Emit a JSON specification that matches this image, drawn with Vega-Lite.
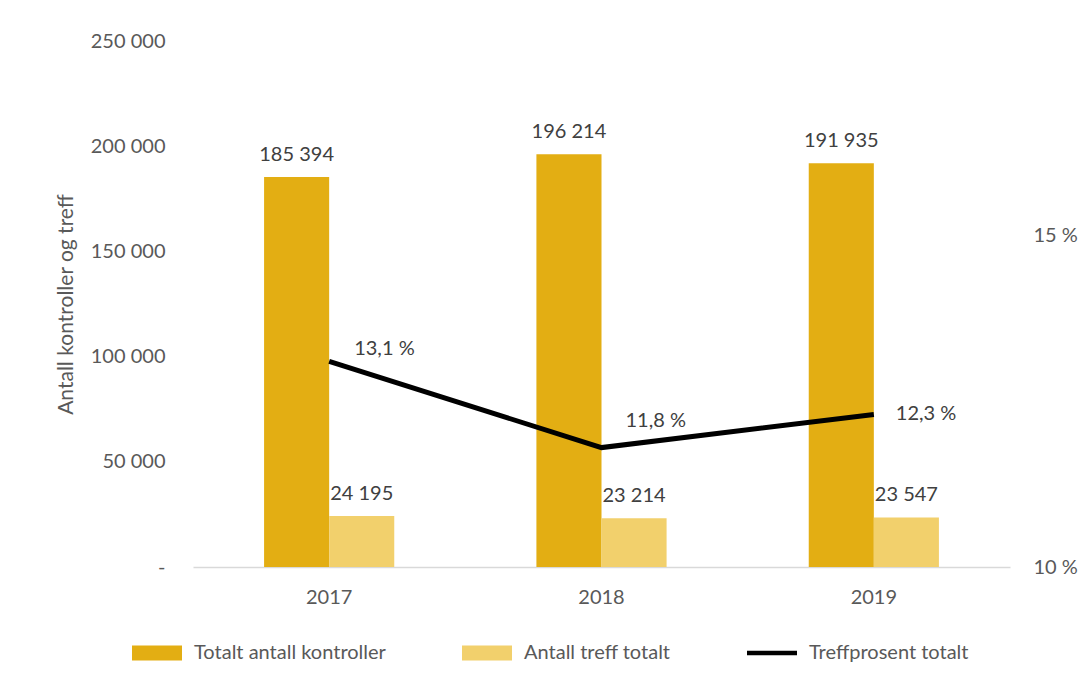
{
  "$schema": "https://vega.github.io/schema/vega-lite/v6.json",
  "width": 817,
  "height": 526,
  "autosize": {"type": "none"},
  "padding": {"left": 193, "top": 41, "right": 72, "bottom": 117},
  "background": "white",
  "config": {
    "font": "Lato",
    "view": {"stroke": null},
    "axis": {"labelColor": "#595959", "labelFontSize": 20, "titleColor": "#595959", "titleFontWeight": "normal", "grid": false, "ticks": false, "domain": false},
    "text": {"font": "Lato", "fontSize": 20, "fill": "#404040"}
  },
  "datasets": {
    "bars": [
      {"year": "2017", "series": "Totalt antall kontroller", "value": 185394},
      {"year": "2017", "series": "Antall treff totalt", "value": 24195},
      {"year": "2018", "series": "Totalt antall kontroller", "value": 196214},
      {"year": "2018", "series": "Antall treff totalt", "value": 23214},
      {"year": "2019", "series": "Totalt antall kontroller", "value": 191935},
      {"year": "2019", "series": "Antall treff totalt", "value": 23547}
    ],
    "line": [
      {"year": "2017", "pct": 13.1},
      {"year": "2018", "pct": 11.8},
      {"year": "2019", "pct": 12.3}
    ]
  },
  "encoding": {
    "x": {
      "field": "year", "type": "nominal",
      "scale": {"paddingInner": 0.522, "paddingOuter": 0.261},
      "axis": {"title": null, "labelAngle": 0, "domain": true, "domainColor": "#D9D9D9", "domainWidth": 1.5, "labelPadding": 20}
    }
  },
  "layer": [
    {
      "data": {"name": "bars"},
      "transform": [{"calculate": "replace(format(datum.value, ','), ',', ' ')", "as": "label"}],
      "encoding": {
        "xOffset": {"field": "series", "type": "nominal", "sort": ["Totalt antall kontroller", "Antall treff totalt"], "scale": {"paddingInner": 0}},
        "y": {
          "field": "value", "type": "quantitative",
          "scale": {"domain": [0, 250000]},
          "axis": {
            "title": "Antall kontroller og treff", "titleFontSize": 21, "titlePadding": 14,
            "values": [0, 50000, 100000, 150000, 200000, 250000],
            "labelExpr": "datum.value == 0 ? '-' : replace(format(datum.value, ','), ',', ' ')",
            "labelPadding": 28
          }
        }
      },
      "layer": [
        {
          "mark": {"type": "bar"},
          "encoding": {
            "color": {
              "field": "series", "type": "nominal",
              "scale": {"domain": ["Totalt antall kontroller", "Antall treff totalt", "Treffprosent totalt"], "range": ["#E3AE13", "#F2D06C", "#000000"]},
              "legend": {
                "title": null, "orient": "none", "direction": "horizontal",
                "legendX": -61, "legendY": 587,
                "symbolType": "M-1,-0.3H1V0.3H-1Z", "symbolSize": 2500,
                "labelFontSize": 20, "labelColor": "#595959", "labelOffset": 12, "labelLimit": 400,
                "columnPadding": 76,
                "encode": {
                  "symbols": {
                    "update": {
                      "shape": {"signal": "datum.value === 'Treffprosent totalt' ? 'M-1,-0.09H1V0.09H-1Z' : 'M-1,-0.3H1V0.3H-1Z'"},
                      "fill": {"scale": "color", "field": "value"},
                      "strokeWidth": {"value": 0},
                      "opacity": {"value": 1}
                    }
                  }
                }
              }
            }
          }
        },
        {
          "mark": {"type": "text", "baseline": "bottom", "dy": -12, "fill": "#404040"},
          "encoding": {"text": {"field": "label"}}
        }
      ]
    },
    {
      "data": {"name": "line"},
      "transform": [{"calculate": "replace(format(datum.pct, '.1f'), '.', ',') + ' %'", "as": "label"}],
      "encoding": {
        "y": {
          "field": "pct", "type": "quantitative",
          "scale": {"domain": [10, 17.93], "zero": false, "nice": false},
          "axis": {"orient": "right", "title": null, "values": [10, 15], "labelExpr": "datum.value + ' %'", "labelPadding": 23}
        }
      },
      "layer": [
        {
          "mark": {"type": "line", "strokeWidth": 5, "strokeCap": "butt"},
          "encoding": {"color": {"datum": "Treffprosent totalt", "type": "nominal"}}
        },
        {
          "transform": [{"filter": "datum.year == '2017'"}],
          "mark": {"type": "text", "align": "left", "baseline": "middle", "dx": 25, "dy": -12, "fill": "#404040"},
          "encoding": {"text": {"field": "label"}}
        },
        {
          "transform": [{"filter": "datum.year == '2018'"}],
          "mark": {"type": "text", "align": "left", "baseline": "middle", "dx": 24, "dy": -27, "fill": "#404040"},
          "encoding": {"text": {"field": "label"}}
        },
        {
          "transform": [{"filter": "datum.year == '2019'"}],
          "mark": {"type": "text", "align": "left", "baseline": "middle", "dx": 22, "dy": 0, "fill": "#404040"},
          "encoding": {"text": {"field": "label"}}
        }
      ]
    }
  ],
  "resolve": {"scale": {"y": "independent"}}
}
